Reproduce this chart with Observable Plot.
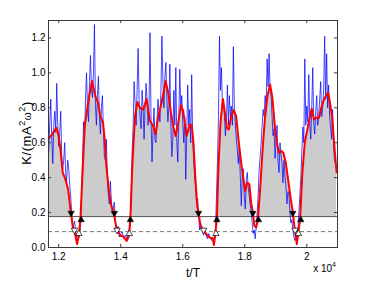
<!DOCTYPE html>
<html><head><meta charset="utf-8">
<script src="https://cdn.jsdelivr.net/npm/d3@7"></script>
<script src="https://cdn.jsdelivr.net/npm/@observablehq/plot@0.6"></script>
<style>
body{margin:0;background:#fff}
#chart svg{font-family:"Liberation Sans",Arial,sans-serif}
</style>
</head><body><div id="chart"></div>
<script>
// ---- data ----
const redT = [11700,11787,11926,12000,12055,12129,12216,12303,12377,12451,12515,12592,12644,12699,12753,12837,12914,12998,13075,13182,13269,13343,13430,13481,13536,13610,13697,13771,13848,13987,14083,14190,14267,14309,14373,14460,14534,14621,14727,14834,14943,15049,15123,15210,15317,15445,15532,15619,15693,15767,15854,15941,16015,16122,16231,16290,16345,16402,16466,16508,16572,16650,16756,16862,16972,17004,17046,17100,17152,17216,17294,17345,17422,17487,17561,17648,17722,17796,17883,17957,18012,18076,18150,18205,18260,18311,18366,18421,18495,18582,18650,18730,18817,18891,18968,19033,19107,19181,19245,19322,19396,19483,19548,19590,19645,19677,19728,19783,19857,19934,20018,20105,20159,20234,20320,20394,20449,20533,20610,20685,20749,20823,20897,20961];
const redK = [0.629,0.648,0.686,0.638,0.562,0.429,0.39,0.334,0.22,0.124,0.086,0.02,0.067,0.162,0.37,0.695,0.79,0.886,0.953,0.867,0.829,0.753,0.714,0.62,0.467,0.334,0.238,0.2,0.124,0.067,0.063,0.038,0.077,0.162,0.467,0.753,0.833,0.8,0.79,0.851,0.724,0.695,0.648,0.753,0.829,0.953,0.886,0.771,0.695,0.638,0.714,0.814,0.781,0.638,0.705,0.70,0.60,0.41,0.238,0.2,0.124,0.105,0.077,0.057,0.051,0.014,0.077,0.162,0.467,0.714,0.851,0.79,0.686,0.676,0.753,0.787,0.753,0.62,0.486,0.39,0.324,0.371,0.362,0.257,0.2,0.124,0.114,0.158,0.334,0.581,0.74,0.867,0.933,0.857,0.695,0.6,0.543,0.553,0.543,0.486,0.39,0.277,0.204,0.134,0.067,0.02,0.086,0.158,0.429,0.6,0.676,0.753,0.795,0.733,0.743,0.743,0.79,0.838,0.867,0.886,0.829,0.733,0.562,0.429];

const blueStart = 11680, blueStep = 32;
const blueK = [
0.55,0.72,0.85,0.62,0.48,0.7,0.78,0.66,0.94,0.7,0.58,0.66,0.78,0.52,0.45,0.5,0.6,0.42,0.38,0.5,
0.46,0.36,0.3,0.2,0.1,0.13,0.15,0.09,0.06,0.08,0.05,0.07,0.12,0.3,0.5,0.72,0.62,0.85,1.0,0.8,
0.72,0.95,1.1,0.9,0.86,1.0,1.277,0.82,0.7,0.87,0.98,0.75,0.65,0.8,0.87,0.68,0.52,0.5,0.62,0.4,
0.3,0.25,0.38,0.27,0.2,0.22,0.26,0.15,0.1,0.08,0.12,0.06,0.07,0.08,0.09,0.06,0.05,0.07,0.06,0.04,
0.05,0.06,0.12,0.3,0.55,0.7,0.95,0.82,0.7,0.9,1.14,0.85,0.75,0.68,0.9,0.8,0.62,0.8,0.94,0.85,
0.7,0.8,1.23,0.75,0.49,0.66,0.8,0.62,0.6,0.72,0.85,0.78,0.72,0.9,1.21,0.95,0.8,0.98,1.06,0.85,
0.72,0.8,1.05,0.7,0.52,0.62,0.9,0.7,1.03,0.6,0.49,0.75,1.02,0.78,0.87,0.72,0.6,0.75,0.39,0.65,
0.93,0.7,0.79,0.6,0.99,0.62,0.5,0.4,0.35,0.25,0.28,0.18,0.1,0.14,0.12,0.09,0.07,0.1,0.08,0.06,
0.05,0.08,0.07,0.05,0.04,0.06,0.05,0.03,0.1,0.3,0.5,0.75,1.21,0.9,1.03,0.8,0.85,0.75,0.64,0.72,
0.93,0.7,0.87,0.75,0.81,0.7,1.15,0.8,0.7,0.62,0.56,0.48,0.58,0.4,0.24,0.42,0.45,0.3,0.22,0.38,
0.43,0.34,0.3,0.24,0.2,0.14,0.08,0.1,0.05,0.12,0.2,0.3,0.45,0.52,0.6,0.7,0.79,0.75,0.87,0.8,
1.08,0.92,1.11,0.9,0.87,0.75,0.64,0.68,0.51,0.6,0.7,0.5,0.43,0.6,0.53,0.48,0.37,0.5,0.41,0.35,
0.25,0.32,0.3,0.2,0.14,0.16,0.1,0.06,0.04,0.08,0.06,0.1,0.2,0.3,0.4,0.55,0.69,0.6,1.08,0.7,
0.81,0.72,0.99,0.7,0.62,0.8,1.03,0.72,0.65,0.78,0.87,0.7,0.75,0.85,0.95,0.75,0.8,0.9,1.21,0.85,
1.11,0.8,0.93,0.75,0.69,0.62,0.79,0.58,0.49
];

const threshold = 0.177;
const lowThreshold = 0.091;
const downFilledT = [12399,13794,16508,18260,19548];
const downFilledK = 0.197;
const upFilledT = [12721,14309,17100,18440,19805];
const upFilledK = 0.158;
const downOpenT = [12506,13880,16669,19622];
const downOpenK = 0.1;
const upOpenT = [12650,14277,17068,19728];
const upOpenK = 0.079;

const xDomain = [11670, 20990];
const yDomain = [0, 1.3];
const xTicks = [12000,14000,16000,18000,20000];
const yTicks = [0,0.2,0.4,0.6,0.8,1,1.2];
const xLabel = "t/T";
const exponentBase = "x 10", exponentPower = "4";

// ---- build tables ----
const red = redT.map((t,i)=>({t, k: redK[i]}));
const blue = blueK.map((k,i)=>({t: blueStart + i*blueStep, k}));
const pts = (ts,k)=>ts.map(t=>({t,k}));

const tickLenX = 100;   // data units ~3px
const tickLenY = 0.018;
const frameColor = "#3a3a3a";

const plot = Plot.plot({
  width: 374, height: 288,
  marginLeft: 48, marginRight: 37, marginTop: 20, marginBottom: 41,
  style: {fontFamily: "Liberation Sans, Arial, sans-serif", fontSize: "10px", background: "#fff", color: "#000"},
  x: {domain: xDomain},
  y: {domain: yDomain},
  marks: [
    Plot.areaY(red, {x: "t", y1: threshold, y2: d => Math.max(d.k, threshold), fill: "#cccccc"}),
    Plot.ruleY([lowThreshold], {stroke: "#7a7a7a", strokeDasharray: "4,3", strokeWidth: 1}),
    Plot.ruleY([threshold], {stroke: "#555", strokeWidth: 1}),
    Plot.lineY(blue, {x: "t", y: "k", stroke: "#0000ff", strokeWidth: 0.9, strokeOpacity: 0.8}),
    Plot.lineY(red, {x: "t", y: "k", stroke: "#ff0000", strokeWidth: 2}),
    Plot.dot(pts(downFilledT, downFilledK), {x: "t", y: "k", symbol: "triangle", rotate: 180, r: 2.4, fill: "#000", stroke: "#000", strokeWidth: 0.5}),
    Plot.dot(pts(upFilledT, upFilledK), {x: "t", y: "k", symbol: "triangle", r: 2.4, fill: "#000", stroke: "#000", strokeWidth: 0.5}),
    Plot.dot(pts(downOpenT, downOpenK), {x: "t", y: "k", symbol: "triangle", rotate: 180, r: 2.4, fill: "#fff", stroke: "#000", strokeWidth: 0.7}),
    Plot.dot(pts(upOpenT, upOpenK), {x: "t", y: "k", symbol: "triangle", r: 2.4, fill: "#fff", stroke: "#000", strokeWidth: 0.7}),
    // inward ticks on all four sides
    Plot.ruleX(xTicks, {y1: yDomain[0], y2: yDomain[0] + tickLenY, stroke: frameColor}),
    Plot.ruleX(xTicks, {y1: yDomain[1], y2: yDomain[1] - tickLenY, stroke: frameColor}),
    Plot.ruleY(yTicks, {x1: xDomain[0], x2: xDomain[0] + tickLenX, stroke: frameColor}),
    Plot.ruleY(yTicks, {x1: xDomain[1], x2: xDomain[1] - tickLenX, stroke: frameColor}),
    Plot.frame({stroke: frameColor}),
    Plot.axisX(xTicks, {tickSize: 0, tickPadding: 5, tickFormat: d => String(d / 1e4), label: null, fontSize: 10}),
    Plot.axisY(yTicks, {tickSize: 0, tickPadding: 3, label: null, fontSize: 10}),
    Plot.text([xLabel], {frameAnchor: "bottom", dy: 21, fontSize: 12, lineAnchor: "top"})
  ]
});

document.getElementById("chart").append(plot);

// y label with superscripts and the exponent label
const svg = d3.select(plot);
const yl = svg.append("text")
  .attr("transform", "translate(31,133) rotate(-90)")
  .attr("text-anchor", "middle")
  .attr("font-size", 13)
  .attr("letter-spacing", 0.6)
  .attr("fill", "#000");
yl.append("tspan").text("K/(mA");
yl.append("tspan").attr("font-size", 9).attr("dy", -6).text("2");
yl.append("tspan").attr("font-size", 10).attr("dy", 6).text("ω");
yl.append("tspan").attr("font-size", 9).attr("dy", -6).text("2");
yl.append("tspan").attr("dy", 6).text(")");

const ex = svg.append("text")
  .attr("x", 336).attr("y", 272)
  .attr("text-anchor", "end")
  .attr("font-size", 10)
  .attr("fill", "#000");
ex.append("tspan").text(exponentBase);
ex.append("tspan").attr("font-size", 7).attr("dy", -5).text(exponentPower);
</script>
</body></html>
